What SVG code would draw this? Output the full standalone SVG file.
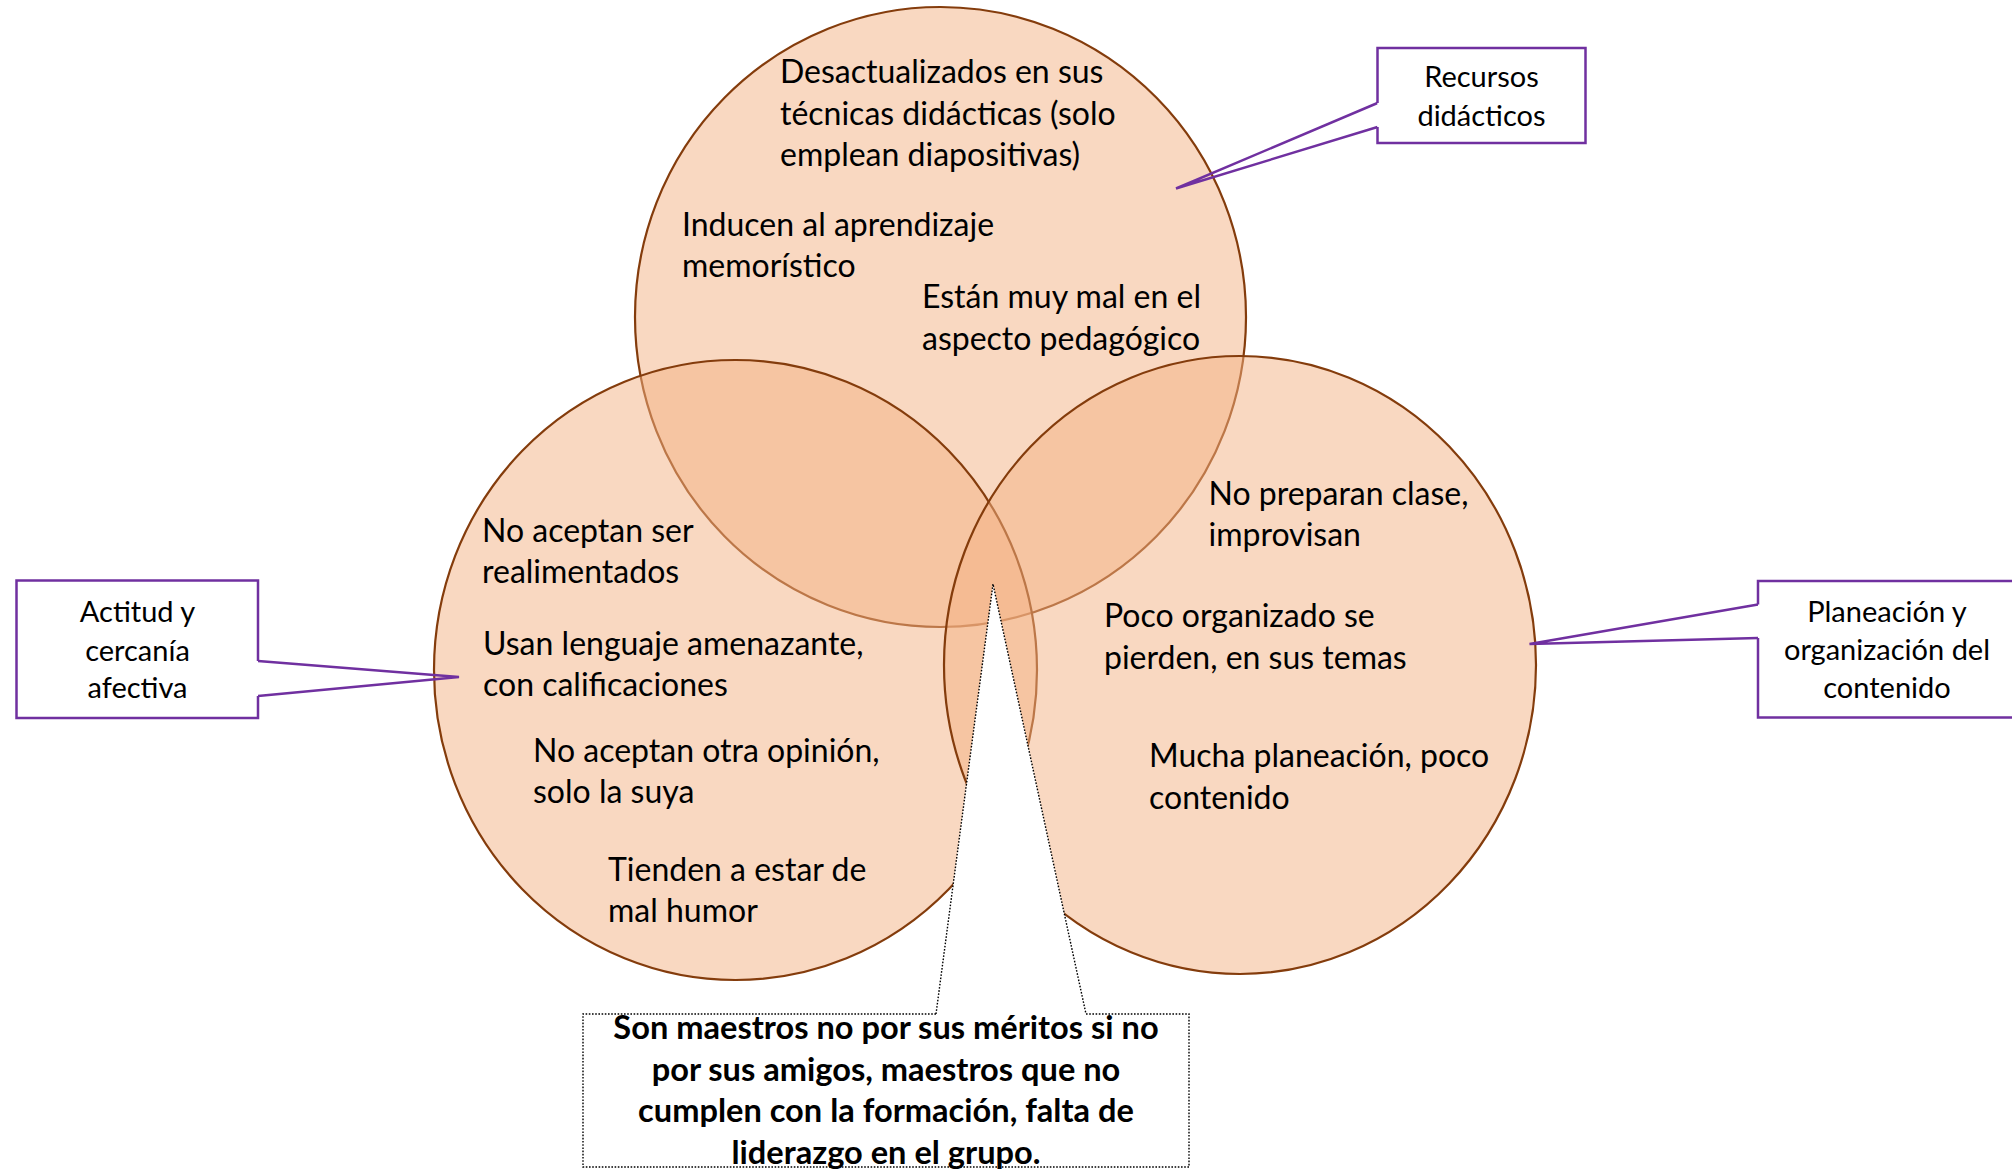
<svg xmlns="http://www.w3.org/2000/svg" width="2012" height="1169" viewBox="0 0 2012 1169">
<style>
.circ{fill:#F4B183;fill-opacity:0.5;stroke:#843C0C;stroke-width:2.2}
.t{font-family:Lato,"Liberation Sans",sans-serif;font-size:32px;fill:#000}
.lbl{font-family:Lato,"Liberation Sans",sans-serif;font-size:29px;fill:#000;text-anchor:middle}
.bold{font-family:Lato,"Liberation Sans",sans-serif;font-size:32.6px;font-weight:bold;fill:#000;text-anchor:middle}
.pbox{fill:#fff;stroke:#7030A0;stroke-width:2.5;stroke-linejoin:miter}
.pptr{fill:none;stroke:#7030A0;stroke-width:2.5;stroke-linejoin:miter}
.dbox{fill:#fff;stroke:#000;stroke-width:1.4;stroke-dasharray:1.6 1.6}
.dptr{fill:none;stroke:#000;stroke-width:1.4;stroke-dasharray:1.6 1.6}
</style>
<rect x="0" y="0" width="2012" height="1169" fill="#fff"/>
<g id="set-top">
<ellipse class="circ" cx="940.5" cy="317" rx="305.5" ry="310"/>
<text class="t" x="780" y="83">Desactualizados en sus</text>
<text class="t" x="780" y="124.5">técnicas didácticas (solo</text>
<text class="t" x="780" y="166">emplean diapositivas)</text>
<text class="t" x="682" y="235.5">Inducen al aprendizaje</text>
<text class="t" x="682" y="277">memorístico</text>
<text class="t" x="922" y="308">Están muy mal en el</text>
<text class="t" x="922" y="349.5">aspecto pedagógico</text>
</g>
<g id="set-left">
<ellipse class="circ" cx="735.5" cy="670" rx="301.5" ry="310"/>
<text class="t" x="482" y="541.5">No aceptan ser</text>
<text class="t" x="482" y="583">realimentados</text>
<text class="t" x="483" y="654.5">Usan lenguaje amenazante,</text>
<text class="t" x="483" y="696">con calificaciones</text>
<text class="t" x="533" y="761.5">No aceptan otra opinión,</text>
<text class="t" x="533" y="803">solo la suya</text>
<text class="t" x="608" y="880.5">Tienden a estar de</text>
<text class="t" x="608" y="922">mal humor</text>
</g>
<g id="set-right">
<ellipse class="circ" cx="1240" cy="665" rx="296" ry="309"/>
<text class="t" x="1208.5" y="504.5">No preparan clase,</text>
<text class="t" x="1208.5" y="546">improvisan</text>
<text class="t" x="1104" y="627">Poco organizado se</text>
<text class="t" x="1104" y="668.5">pierden, en sus temas</text>
<text class="t" x="1149" y="767">Mucha planeación, poco</text>
<text class="t" x="1149" y="808.5">contenido</text>
</g>
<g id="connectors">
<polyline class="pptr" points="1377.5,103 1176,188.5 1377.5,127"/>
<polyline class="pptr" points="258,661 459,677 258,696"/>
<polyline class="pptr" points="1758,604.5 1529.5,644 1758,638"/>
<polygon points="936,1014 993,584 1086,1014" fill="#fff" stroke="none"/>
<polyline class="dptr" points="936,1014 993,584 1086,1014"/>
</g>
<g id="label-recursos">
<path class="pbox" d="M1377.5,103 V48 H1585.5 V143 H1377.5 V127"/>
<text class="lbl" x="1481.5" y="87">Recursos</text>
<text class="lbl" x="1481.5" y="126">didácticos</text>
</g>
<g id="label-actitud">
<path class="pbox" d="M258,661 V580.5 H16.5 V718 H258 V696"/>
<text class="lbl" x="137.5" y="621.5">Actitud y</text>
<text class="lbl" x="137.5" y="660.5">cercanía</text>
<text class="lbl" x="137.5" y="698">afectiva</text>
</g>
<g id="label-planeacion">
<path class="pbox" d="M1758,604.5 V581 H2020 V717.5 H1758 V638"/>
<text class="lbl" x="1887" y="621.5">Planeación y</text>
<text class="lbl" x="1887" y="660">organización del</text>
<text class="lbl" x="1887" y="697.5">contenido</text>
</g>
<g id="note-maestros">
<path class="dbox" d="M936,1014 H583 V1167 H1189 V1014 H1086"/>
<text class="bold" x="886" y="1039">Son maestros no por sus méritos si no</text>
<text class="bold" x="886" y="1080.5">por sus amigos, maestros que no</text>
<text class="bold" x="886" y="1122">cumplen con la formación, falta de</text>
<text class="bold" x="886" y="1163.5">liderazgo en el grupo.</text>
</g>
</svg>
